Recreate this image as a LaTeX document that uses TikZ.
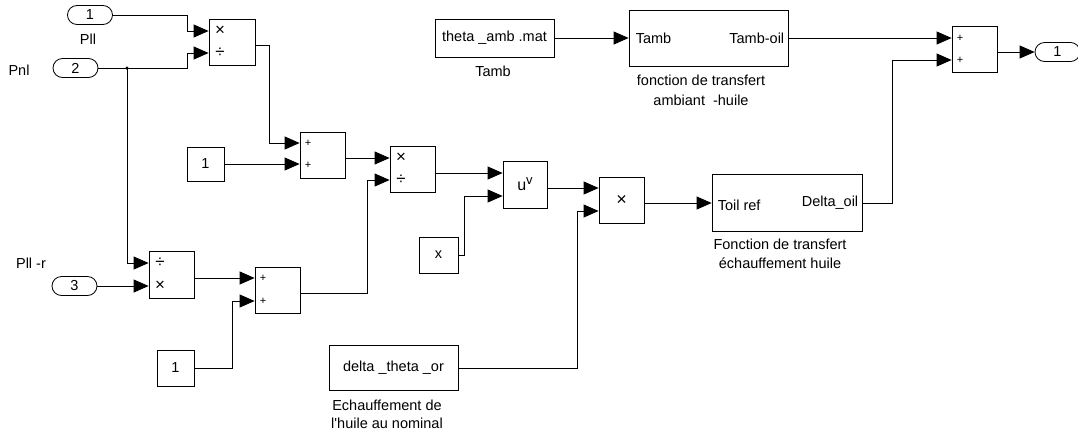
\documentclass[tikz,border=0pt]{standalone}
\usepackage{fontspec}
\newfontfamily\arialf{Liberation Sans}
\usetikzlibrary{arrows.meta,calc}
\begin{document}
\begin{tikzpicture}[x=1pt,y=-1pt,
  txt/.style={font=\arialf\fontsize{14.5}{17}\selectfont,inner sep=0pt},
  blk/.style 2 args={draw,line width=0.8pt,minimum width=#1,minimum height=#2,inner sep=0pt,txt},
  port/.style={draw,line width=0.8pt,rounded corners=9.5pt,minimum width=45,minimum height=19,inner sep=0pt,txt},
  sig/.style={line width=0.8pt,-{Triangle[length=15pt,width=13pt]}},
  sgn/.style={font=\arialf\fontsize{11}{11}\selectfont,inner sep=0pt},
  opn/.style={font=\arialf\fontsize{17}{17}\selectfont,inner sep=0pt},
  lbl/.style={txt,align=center},
  dotst/.style={fill,circle,inner sep=0pt,minimum size=3.5pt}
]
\useasboundingbox (0,0) rectangle (1078,434);
% inports / outport
\node[port] (in1) at (90,15) {1};
\node[port] (in2) at (75.5,68) {2};
\node[port] (in3) at (74.5,286) {3};
\node[port] (out1) at (1057.5,52) {1};
\node[txt] (lPll) at (88,39) {Pll};
\node[txt] (lPnl) at (19,70) {Pnl};
\node[txt] (lPllr) at (31,263) {Pll -r};
% blocks
\node[blk={46}{46}] (prodA) at (232,42) {};
\node[blk={45}{46}] (sumA) at (322.5,155) {};
\node[blk={37}{34}] (constA) at (205.5,164) {1};
\node[blk={45}{46}] (prodB) at (412.5,169) {};
\node[blk={45}{47}] (prodC) at (171.5,274.5) {};
\node[blk={45}{46}] (sumB) at (277.5,290) {};
\node[blk={37}{36}] (constB) at (175.5,368) {1};
\node[blk={44}{47}] (pow) at (525,184.5) {\fontsize{16}{16}\selectfont u\raisebox{6pt}{\fontsize{13}{13}\selectfont v}};
\node[blk={39}{36}] (xbox) at (438.5,255) {x};
\node[blk={45}{46}] (prodD) at (621.5,200) {\fontsize{18}{18}\selectfont ×};
\node[blk={129}{45}] (delta) at (393.5,368) {delta \_theta \_or};
\node[blk={119}{38}] (theta) at (494.5,38) {theta \_amb .mat};
\node[blk={159}{56}] (sub1) at (708.5,38) {};
\node[blk={150}{57}] (sub2) at (787,203) {};
\node[blk={45}{46}] (sumC) at (974.5,49) {};
% signs
\node[opn] (sA1) at (220,31) {×};
\node[opn] (sA2) at (220,53) {÷};
\node[sgn] (sB1) at (308,143) {+};
\node[sgn] (sB2) at (308,165) {+};
\node[opn] (sC1) at (401,158) {×};
\node[opn] (sC2) at (401,180) {÷};
\node[opn] (sD1) at (160,263) {÷};
\node[opn] (sD2) at (160,286) {×};
\node[sgn] (sE1) at (263,278) {+};
\node[sgn] (sE2) at (263,301) {+};
\node[sgn] (sF1) at (960,38) {+};
\node[sgn] (sF2) at (960,60) {+};
% subsystem ports
\node[txt,anchor=west] (p1) at ($(sub1.west)+(7,0)$) {Tamb};
\node[txt,anchor=east] (p2) at ($(sub1.east)+(-4,0)$) {Tamb-oil};
\node[txt,anchor=west] (p3) at ($(sub2.west)+(6,2)$) {Toil ref};
\node[txt,anchor=east] (p4) at ($(sub2.east)+(-4,0)$) {Delta\_oil};
% labels
\node[txt] (lTamb) at (493,71) {Tamb};
\node[lbl,font=\arialf\fontsize{14.5}{20}\selectfont] (lsub1) at (701,90) {fonction de transfert\\ambiant \ -huile};
\node[lbl,font=\arialf\fontsize{14.5}{19}\selectfont] (lsub2) at (780,254) {Fonction de transfert\\échauffement huile};
\node[lbl,font=\arialf\fontsize{14.5}{18}\selectfont] (ldelta) at (387,414) {Echauffement de\\l'huile au nominal};
% junction
\node[dotst] (dot) at (127,68) {};
% connectors
\draw[sig] (in1.east) -| (187,31) -- (prodA.west|-0,31);
\draw[sig] (in2.east) -| (187,53) -- (prodA.west|-0,53);
\draw[sig] (dot.center) |- (prodC.west|-0,263);
\draw[sig] (in3.east) -- (prodC.west|-0,286);
\draw[sig] (prodA.east|-0,45) -| (269,143) -- (sumA.west|-0,143);
\draw[sig] (constA.east) -- (sumA.west|-0,164);
\draw[sig] (sumA.east|-0,158) -- (prodB.west|-0,158);
\draw[sig] (prodC.east|-0,278) -- (sumB.west|-0,278);
\draw[sig] (constB.east) -| (232,301) -- (sumB.west|-0,301);
\draw[sig] (sumB.east|-0,293) -| (367,180) -- (prodB.west|-0,180);
\draw[sig] (prodB.east|-0,173) -- (pow.west|-0,173);
\draw[sig] (xbox.east) -| (464,196) -- (pow.west|-0,196);
\draw[sig] (pow.east|-0,188) -- (prodD.west|-0,188);
\draw[sig] (delta.east) -| (577,211) -- (prodD.west|-0,211);
\draw[sig] (prodD.east|-0,203) -- (sub2.west|-0,203);
\draw[sig] (theta.east) -- (sub1.west);
\draw[sig] (sub1.east) -- (sumC.west|-0,38);
\draw[sig] (sub2.east) -| (892,60) -- (sumC.west|-0,60);
\draw[sig] (sumC.east|-0,52) -- (out1.west);
\end{tikzpicture}
\end{document}
